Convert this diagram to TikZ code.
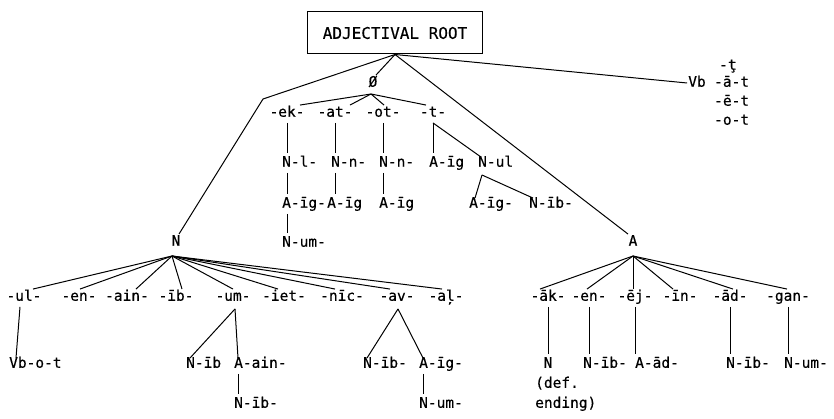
\documentclass[tikz,border=0pt]{standalone}
\usepackage{fontspec}
\newfontfamily\tw{DejaVu Sans Mono}[FakeBold=0.4]
\begin{document}
\begin{tikzpicture}[x=1pt,y=-1pt,
  lbl/.style={font=\tw\fontsize{14.5}{14.5}\selectfont, inner sep=1pt, text height=10.5pt, text depth=3pt},
  wl/.style={lbl, anchor=west},
  ln/.style={line width=1pt},
  vl/.style={line width=1pt, shorten <=2pt, shorten >=2pt}]
\useasboundingbox (0,0) rectangle (834,419);

% root
\node[draw, line width=1pt, minimum width=175pt, minimum height=42pt, inner sep=0pt,
      font=\tw\fontsize{16}{16}\selectfont] (root) at (395,33) {ADJECTIVAL ROOT};

% zero branch
\node[lbl] (zero) at (373,83) {Ø};
\coordinate (zap) at (371,94);
\node[lbl] (ek) at (287,113) {-ek-};
\node[lbl] (at) at (335,113) {-at-};
\node[lbl] (ot) at (383,113) {-ot-};
\node[lbl] (tt) at (433,113) {-t-};

\node[wl] (nl)  at (281,163) {N-l-};
\node[wl] (nn1) at (330,163) {N-n-};
\node[wl] (nn2) at (378,163) {N-n-};
\node[wl] (aig1) at (428,163) {A-īg};
\node[wl] (nul) at (477,163) {N-ul};

\node[wl] (aig2a) at (281,204) {A-īg-};
\node[wl] (aig2b) at (326,204) {A-īg};
\node[wl] (aig3) at (378,204) {A-īg};
\node[wl] (aig4) at (468,204) {A-īg-};
\node[wl] (nib1) at (528,204) {N-īb-};

\node[wl] (num1) at (281,243) {N-um-};

\draw[ln] (root.south) -- ([xshift=3pt]zero.north);
\draw[ln] (zap) -- ([xshift=13pt]ek.north);
\draw[ln] (zap) -- ([xshift=15pt]at.north);
\draw[ln] (zap) -- ([xshift=1pt]ot.north);
\draw[ln] (zap) -- ([xshift=-7pt]tt.north);

\draw[vl] (ek.south) -- (ek.south |- nl.north);
\draw[vl] (ek.south |- nl.south) -- (ek.south |- aig2a.north);
\draw[vl] (ek.south |- aig2a.south) -- (ek.south |- num1.north);
\draw[vl] (at.south) -- (at.south |- nn1.north);
\draw[vl] (at.south |- nn1.south) -- (at.south |- aig2b.north);
\draw[vl] (ot.south) -- (ot.south |- nn2.north);
\draw[vl] (ot.south |- nn2.south) -- (ot.south |- aig3.north);
\draw[vl] (tt.south) -- (tt.south |- aig1.north);
\draw[ln] ([yshift=-2pt]tt.south) -- ([xshift=4pt,yshift=-2pt]nul.north west);
\coordinate (nulap) at (482,175);
\draw[ln] (nulap) -- ([xshift=7pt,yshift=-2pt]aig4.north west);
\draw[ln] (nulap) -- ([xshift=5pt,yshift=-2pt]nib1.north west);

% Vb branch
\node[lbl] (vb) at (697,83) {Vb};
\node[wl] (vt0) at (718,66) {-ţ};
\node[wl] (vt1) at (713,83) {-ā-t};
\node[wl] (vt2) at (713,102) {-ē-t};
\node[wl] (vt3) at (713,121) {-o-t};
\draw[ln] (root.south) -- (vb.west);

% N branch
\node[lbl] (N) at (176,242) {N};
\coordinate (bend) at (263,99);
\draw[ln] (root.south) -- (bend) -- ([xshift=3pt]N.north);
\coordinate (Nap) at (172,256);
\node[lbl] (ul) at (24,297) {-ul-};
\node[lbl] (en) at (79,297) {-en-};
\node[lbl] (ain) at (127,297) {-ain-};
\node[lbl] (ib) at (176,297) {-īb-};
\node[lbl] (um) at (233,297) {-um-};
\node[lbl] (iet) at (284,297) {-iet-};
\node[lbl] (nic) at (342,297) {-nīc-};
\node[lbl] (av) at (397,297) {-av-};
\node[lbl] (al) at (446,297) {-aļ-};
\draw[ln] (Nap) -- ([xshift=9pt]ul.north);
\draw[ln] (Nap) -- ([xshift=1pt]en.north);
\draw[ln] (Nap) -- ([xshift=9pt]ain.north);
\draw[ln] (Nap) -- ([xshift=6pt]ib.north);
\draw[ln] (Nap) -- (um.north);
\draw[ln] (Nap) -- ([xshift=-6pt]iet.north);
\draw[ln] (Nap) -- ([xshift=-7pt]nic.north);
\draw[ln] (Nap) -- ([xshift=-7pt]av.north);
\draw[ln] (Nap) -- ([xshift=-4pt]al.north);

\node[wl] (vbot) at (8,364) {Vb-o-t};
\draw[ln] ([xshift=-4pt,yshift=-2pt]ul.south) -- ([xshift=8pt,yshift=-2pt]vbot.north west);

\coordinate (umap) at ([xshift=2pt,yshift=-4pt]um.south);
\node[wl] (nib2) at (185,364) {N-īb};
\node[wl] (aain) at (233,364) {A-ain-};
\node[wl] (nib3) at (233,404) {N-īb-};
\draw[ln] (umap) -- ([xshift=5pt,yshift=-2pt]nib2.north west);
\draw[ln] (umap) -- ([xshift=5pt,yshift=-2pt]aain.north west);
\draw[vl] ([xshift=5pt]aain.south west) -- ([xshift=5pt]nib3.north west);

\coordinate (avap) at ([xshift=1pt,yshift=-4pt]av.south);
\node[wl] (nib4) at (362,364) {N-īb-};
\node[wl] (aig5) at (418,364) {A-īg-};
\node[wl] (num2) at (418,404) {N-um-};
\draw[ln] (avap) -- ([xshift=5pt,yshift=-2pt]nib4.north west);
\draw[ln] (avap) -- ([xshift=5pt,yshift=-2pt]aig5.north west);
\draw[vl] ([xshift=5pt]aig5.south west) -- ([xshift=5pt]num2.north west);

% A branch
\node[lbl] (A) at (633,242) {A};
\draw[ln] (root.south) -- ([xshift=-5pt]A.north);
\coordinate (Aap) at (633,256);
\node[lbl] (ak) at (548,297) {-āk-};
\node[lbl] (en2) at (589,297) {-en-};
\node[lbl] (ej) at (635,297) {-ēj-};
\node[lbl] (in) at (680,297) {-īn-};
\node[lbl] (ad) at (730,297) {-ād-};
\node[lbl] (gan) at (788,297) {-gan-};
\draw[ln] (Aap) -- ([xshift=-8pt]ak.north);
\draw[ln] (Aap) -- ([xshift=-2pt]en2.north);
\draw[ln] (Aap) -- ([xshift=-2pt]ej.north);
\draw[ln] (Aap) -- ([xshift=-7pt]in.north);
\draw[ln] (Aap) -- ([xshift=3pt]ad.north);
\draw[ln] (Aap) -- ([xshift=-1pt]gan.north);

\node[lbl] (Nd) at (548,364) {N};
\node[wl] (def) at (534,384) {(def.};
\node[wl] (ending) at (534,404) {ending)};
\node[wl] (nib5) at (582,364) {N-īb-};
\node[wl] (aad) at (634,364) {A-ād-};
\node[wl] (nib6) at (725,364) {N-īb-};
\node[wl] (num3) at (783,364) {N-um-};
\draw[vl] (ak.south) -- (ak.south |- Nd.north);
\draw[vl] (en2.south) -- (en2.south |- nib5.north);
\draw[vl] (ej.south) -- (ej.south |- aad.north);
\draw[vl] (ad.south) -- (ad.south |- nib6.north);
\draw[vl] (gan.south) -- (gan.south |- num3.north);
\end{tikzpicture}
\end{document}
